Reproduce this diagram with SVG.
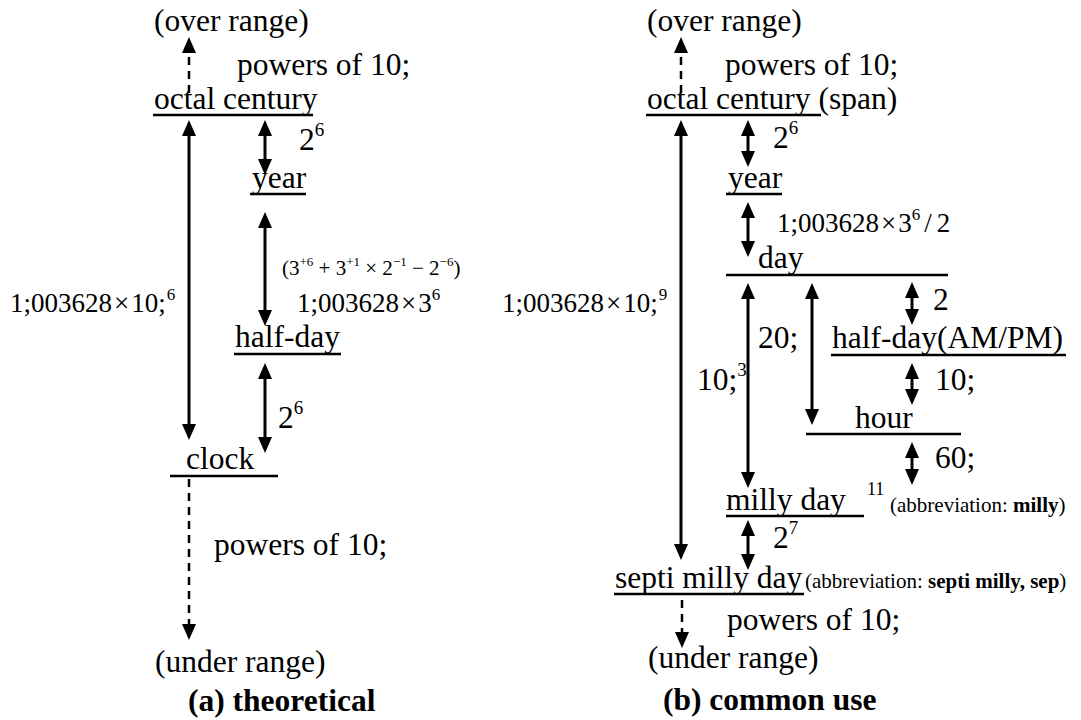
<svg xmlns="http://www.w3.org/2000/svg" width="1081" height="720" viewBox="0 0 1081 720" font-family="'Liberation Serif', 'Times New Roman', Times, serif">
<defs>
<marker id="ah" viewBox="0 0 16 14" refX="12" refY="7" markerWidth="16" markerHeight="14" markerUnits="userSpaceOnUse" orient="auto-start-reverse">
<path d="M0,0 L16,7 L0,14 z" fill="#000"/>
</marker>
<style>
text{font-family:'Liberation Serif','Times New Roman',Times,serif;fill:#000}
.t{font-size:31.5px}
.m{font-size:27px}
.s{font-size:21px}
.b{font-weight:bold}
.ul{stroke:#000;stroke-width:2.5}
.ar{stroke:#000;stroke-width:3;fill:none;marker-start:url(#ah);marker-end:url(#ah)}
.da{stroke:#000;stroke-width:2.5;fill:none;stroke-dasharray:8 6;marker-end:url(#ah)}
</style>
</defs>
<rect width="1081" height="720" fill="#fff"/>

<g id="a-over"><text class="t" x="154" y="31">(over range)</text></g>
<g id="a-octal"><text class="t" x="154" y="109">octal century</text><line class="ul" x1="153" y1="115" x2="313" y2="115"/></g>
<g id="a-year"><text class="t" x="252" y="188">year</text><line class="ul" x1="250" y1="194" x2="306" y2="194"/></g>
<g id="a-halfday"><text class="t" x="235" y="347">half-day</text><line class="ul" x1="234" y1="354" x2="341" y2="354"/></g>
<g id="a-clock"><text class="t" x="186" y="469">clock</text><line class="ul" x1="170" y1="476" x2="278" y2="476"/></g>
<g id="a-under"><text class="t" x="155" y="672">(under range)</text></g>
<g id="a-title"><text class="t b" x="188" y="711">(a) theoretical</text></g>

<g id="a-labels">
<text class="t" x="237" y="75">powers of 10;</text>
<text class="t" x="299" y="150">2<tspan font-size="19" dy="-14">6</tspan></text>
<text class="s" x="282" y="275">(3<tspan font-size="13" dy="-9">+6</tspan><tspan dy="9"> + 3</tspan><tspan font-size="13" dy="-9">+1</tspan><tspan dy="9"> × 2</tspan><tspan font-size="13" dy="-9">−1</tspan><tspan dy="9"> − 2</tspan><tspan font-size="13" dy="-9">−6</tspan><tspan dy="9">)</tspan></text>
<text class="m" x="297" y="312">1;003628<tspan dx="2">×</tspan><tspan dx="2">3</tspan><tspan font-size="17" dy="-12">6</tspan></text>
<text class="m" x="10" y="312">1;003628<tspan dx="2">×</tspan><tspan dx="2">10;</tspan><tspan font-size="17" dy="-12" dx="1">6</tspan></text>
<text class="t" x="278" y="428">2<tspan font-size="19" dy="-14">6</tspan></text>
<text class="t" x="214" y="555">powers of 10;</text>
</g>

<g id="b-over"><text class="t" x="647" y="31">(over range)</text></g>
<g id="b-octal"><text class="t" x="647" y="109">octal century<tspan> (span)</tspan></text><line class="ul" x1="646" y1="115" x2="821" y2="115"/></g>
<g id="b-year"><text class="t" x="728" y="188">year</text><line class="ul" x1="726" y1="194" x2="782" y2="194"/></g>
<g id="b-day"><text class="t" x="758" y="268">day</text><line class="ul" x1="726" y1="275" x2="948" y2="275"/></g>
<g id="b-halfday"><text class="t" x="832" y="348">half-day(AM/PM)</text><line class="ul" x1="831" y1="355" x2="1066" y2="355"/></g>
<g id="b-hour"><text class="t" x="855" y="428">hour</text><line class="ul" x1="806" y1="434" x2="961" y2="434"/></g>
<g id="b-milly"><text class="t" x="726" y="510">milly day</text><line class="ul" x1="726" y1="516" x2="864" y2="516"/>
<text x="867" y="495" font-size="18">11</text>
<text class="s" x="890" y="512">(abbreviation: <tspan class="b">milly</tspan>)</text></g>
<g id="b-septi"><text class="t" x="615" y="588">septi milly day</text><line class="ul" x1="614" y1="594" x2="804" y2="594"/>
<text class="s" x="805" y="588">(abbreviation: <tspan class="b">septi milly, sep</tspan>)</text></g>
<g id="b-under"><text class="t" x="648" y="668">(under range)</text></g>
<g id="b-title"><text class="t b" x="663" y="710">(b) common use</text></g>

<g id="b-labels">
<text class="t" x="725" y="75">powers of 10;</text>
<text class="t" x="773" y="148">2<tspan font-size="19" dy="-14">6</tspan></text>
<text class="m" x="777" y="232">1;003628<tspan dx="2">×</tspan><tspan dx="2">3</tspan><tspan font-size="17" dy="-12">6</tspan><tspan dy="12" dx="4">/</tspan><tspan dx="5">2</tspan></text>
<text class="m" x="502" y="312">1;003628<tspan dx="2">×</tspan><tspan dx="2">10;</tspan><tspan font-size="17" dy="-12" dx="1">9</tspan></text>
<text class="t" x="933" y="310">2</text>
<text class="t" x="758" y="348">20;</text>
<text class="t" x="697" y="390">10;<tspan font-size="19" dy="-14">3</tspan></text>
<text class="t" x="935" y="390">10;</text>
<text class="t" x="935" y="468">60;</text>
<text class="t" x="773" y="548">2<tspan font-size="19" dy="-14">7</tspan></text>
<text class="t" x="727" y="630">powers of 10;</text>
</g>

<g id="connectors">
<line class="da" x1="189" y1="93" x2="189" y2="41"/>
<line class="ar" x1="189" y1="124" x2="189" y2="436"/>
<line class="ar" x1="265" y1="124" x2="265" y2="171"/>
<line class="ar" x1="265" y1="216" x2="265" y2="322"/>
<line class="ar" x1="265" y1="367" x2="265" y2="449"/>
<line class="da" x1="189" y1="479" x2="189" y2="636"/>
<line class="da" x1="681" y1="93" x2="681" y2="41"/>
<line class="ar" x1="681" y1="124" x2="681" y2="556"/>
<line class="ar" x1="748" y1="124" x2="748" y2="163"/>
<line class="ar" x1="748" y1="206" x2="748" y2="253"/>
<line class="ar" x1="748" y1="287" x2="748" y2="484"/>
<line class="ar" x1="812" y1="287" x2="812" y2="421"/>
<line class="ar" x1="912" y1="286" x2="912" y2="321"/>
<line class="ar" x1="912" y1="367" x2="912" y2="401"/>
<line class="ar" x1="912" y1="446" x2="912" y2="481"/>
<line class="ar" x1="748" y1="524" x2="748" y2="566"/>
<line class="da" x1="682" y1="600" x2="682" y2="644"/>
</g>
</svg>
